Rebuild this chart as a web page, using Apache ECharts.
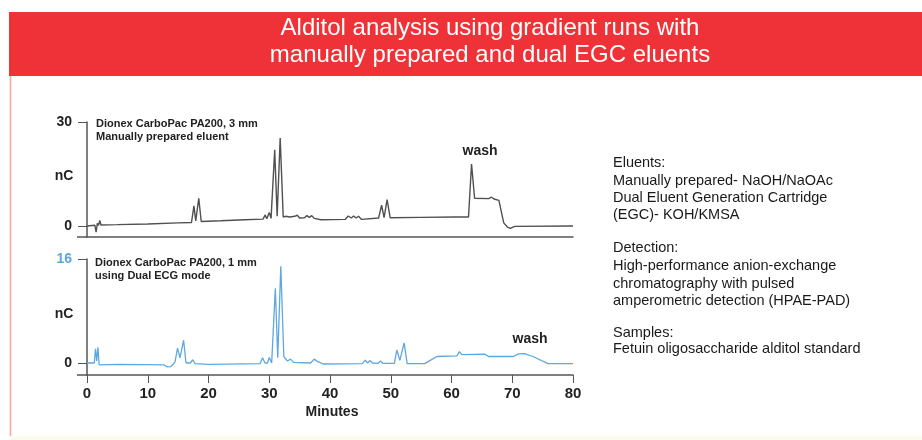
<!DOCTYPE html>
<html>
<head>
<meta charset="utf-8">
<script src="https://cdn.jsdelivr.net/npm/echarts@6/dist/echarts.min.js"></script>
<style>html,body{margin:0;padding:0;background:#fff;}#c{width:922px;height:440px;}</style>
</head>
<body>
<div id="c"></div>
<script>
// ---- data (minutes / nC) ----
var topTime = [0,1.3,1.5,1.7,1.9,2.1,2.3,5,10,15,17.2,17.6,17.9,18.4,18.8,22,26,29.0,29.3,29.6,30.0,30.3,30.9,31.3,31.8,32.3,32.7,33.0,33.4,34.2,34.6,35.0,35.8,36.2,36.6,37.0,37.4,38.5,42.5,43.0,43.5,43.9,44.3,44.7,45.2,48.0,48.5,48.9,49.4,49.9,55,60.5,60.8,61.1,62.8,63.3,63.8,66.1,66.6,67.0,67.8,68.6,69.2,69.7,70.4,80];
var topVal  = [0,0.2,-1.8,0.8,0.2,1.6,0.3,0.4,0.6,0.9,1.0,5.8,1.5,8.0,1.3,1.5,1.8,2.0,3.2,2.1,3.9,2.2,22,2.8,25.4,2.6,2.8,3.2,2.6,2.8,3.1,2.3,2.4,3.0,2.5,3.0,2.2,1.8,1.9,2.9,2.3,2.9,2.3,2.8,1.9,2.3,6.0,2.4,7.6,2.4,2.5,2.6,3.1,2.6,2.6,17.9,8.0,7.9,8.3,7.8,7.4,0.9,-0.3,-0.7,-0.1,0];
var botTime = [0,1.2,1.4,1.6,1.8,2.0,5,10,12.7,13.2,13.8,14.2,14.5,14.9,15.3,15.9,16.3,17.0,17.4,17.8,20,28.5,28.9,29.3,29.7,30.0,30.4,31.0,31.4,31.9,32.4,33.0,33.5,34.0,36.8,37.4,38.0,38.9,45.3,45.8,46.2,46.6,47.0,47.9,48.3,48.7,50.6,51.0,51.5,52.2,52.7,55.6,56.5,57.6,60.9,61.3,61.7,65.5,66.1,70.2,71.0,72.0,73.4,75.9,80];
var botVal  = [0,0,2.2,0.3,2.4,-0.3,-0.2,-0.25,-0.3,-0.6,-0.55,-0.2,0.2,2.3,0.8,3.5,0,0,0.5,-0.1,-0.2,-0.1,0.8,0,0,0.85,0,11.5,0.8,14.9,1.0,0.3,0.6,0.1,0,0.6,0.2,-0.15,-0.1,0.45,0,0.4,0,-0.05,0.3,-0.05,-0.05,2.0,0.4,3.1,-0.1,-0.1,0.4,1.0,1.1,1.75,1.3,1.35,1.0,1.0,1.4,1.45,1.0,-0.1,-0.1];
var xTicks = [0,10,20,30,40,50,60,70,80];
var topYTicks = [0,30];
var botYTicks = [0,16];

function pairs(t, v){ return t.map(function(x,i){ return [x, v[i]]; }); }

var chart = echarts.init(document.getElementById('c'));
var FONT = '"Liberation Sans", Arial, Helvetica, sans-serif';
var axisCol = '#555555';

function yAxisCfg(gi, min, max, ticks, topColor){
  return {
    type:'value', gridIndex:gi, min:min, max:max, position:'left',
    splitLine:{show:false},
    axisLine:{show:true, onZero:false, lineStyle:{color:axisCol, width:1.5}},
    axisTick:{show:true, customValues:ticks.slice(), length:9},
    axisLabel:{customValues:ticks.slice(), margin:15, fontFamily:FONT, fontSize:14, fontWeight:'bold', color:'#222',
      formatter:function(v){ return Number(v) === max ? '{t|' + v + '}' : String(v); },
      rich:{t:{color:topColor, fontFamily:FONT, fontSize:14, fontWeight:'bold'}}}
  };
}

var option = {
  animation:false,
  grid:[
    {left:87, top:122, width:486, height:115, outerBoundsMode:'none', containLabel:false},
    {left:87, top:259, width:486, height:116, outerBoundsMode:'none', containLabel:false}
  ],
  xAxis:[
    {type:'value', gridIndex:0, min:0, max:80, splitLine:{show:false},
     axisLine:{show:true, onZero:false, lineStyle:{color:axisCol, width:1.5}},
     axisTick:{show:false}, axisLabel:{show:false}},
    {type:'value', gridIndex:1, min:0, max:80, splitLine:{show:false},
     axisLine:{show:true, onZero:false, lineStyle:{color:axisCol, width:1.5}},
     axisTick:{show:true, customValues:xTicks.slice(), length:8},
     axisLabel:{customValues:xTicks.slice(), margin:11, fontFamily:FONT, fontSize:15, fontWeight:'bold', color:'#222'}}
  ],
  yAxis:[
    yAxisCfg(0, -3.17, 30, topYTicks, '#222'),
    yAxisCfg(1, -1.846, 16, botYTicks, '#5aa7dd')
  ],
  series:[
    {type:'line', xAxisIndex:0, yAxisIndex:0, data:pairs(topTime, topVal), showSymbol:false, symbol:'none',
     lineStyle:{color:'#505050', width:1.4}},
    {type:'line', xAxisIndex:1, yAxisIndex:1, data:pairs(botTime, botVal), showSymbol:false, symbol:'none',
     lineStyle:{color:'#5ea8df', width:1.3}}
  ],
  graphic:[
    {type:'rect', shape:{x:9, y:12, width:913, height:64}, style:{fill:'#ee3237'}, z:-1},
    {type:'line', shape:{x1:10.5, y1:76, x2:10.5, y2:437}, style:{stroke:'#f4a59c', lineWidth:1.5}},
    {type:'rect', shape:{x:10, y:436, width:912, height:4}, style:{fill:'#fbfcee'}},
    {type:'line', shape:{x1:77, y1:237, x2:87, y2:237}, style:{stroke:axisCol, lineWidth:1.5}},
    {type:'line', shape:{x1:77, y1:375, x2:87, y2:375}, style:{stroke:axisCol, lineWidth:1.5}},
    {type:'text', x:490, y:28, style:{text:'Alditol analysis using gradient runs with', fill:'#ffffff', font:'24px '+FONT, textAlign:'center', textVerticalAlign:'middle'}},
    {type:'text', x:490, y:55, style:{text:'manually prepared and dual EGC eluents', fill:'#ffffff', font:'24px '+FONT, textAlign:'center', textVerticalAlign:'middle'}},
    {type:'text', x:64, y:176, style:{text:'nC', fill:'#222', font:'bold 14px '+FONT, textAlign:'center', textVerticalAlign:'middle'}},
    {type:'text', x:64, y:314, style:{text:'nC', fill:'#222', font:'bold 14px '+FONT, textAlign:'center', textVerticalAlign:'middle'}},
    {type:'text', x:332, y:412, style:{text:'Minutes', fill:'#222', font:'bold 14px '+FONT, textAlign:'center', textVerticalAlign:'middle'}},
    {type:'text', x:96, y:124, style:{text:'Dionex CarboPac PA200, 3 mm', fill:'#222', font:'bold 11px '+FONT, textVerticalAlign:'middle'}},
    {type:'text', x:96, y:137, style:{text:'Manually prepared eluent', fill:'#222', font:'bold 11px '+FONT, textVerticalAlign:'middle'}},
    {type:'text', x:95, y:263, style:{text:'Dionex CarboPac PA200, 1 mm', fill:'#222', font:'bold 11px '+FONT, textVerticalAlign:'middle'}},
    {type:'text', x:95, y:276, style:{text:'using Dual ECG mode', fill:'#222', font:'bold 11px '+FONT, textVerticalAlign:'middle'}},
    {type:'text', x:480, y:151, style:{text:'wash', fill:'#222', font:'bold 14px '+FONT, textAlign:'center', textVerticalAlign:'middle'}},
    {type:'text', x:530, y:339, style:{text:'wash', fill:'#222', font:'bold 14px '+FONT, textAlign:'center', textVerticalAlign:'middle'}},
    {type:'text', x:613, y:163, style:{text:'Eluents:', fill:'#1a1a1a', font:'14.5px '+FONT, textVerticalAlign:'middle'}},
    {type:'text', x:613, y:181, style:{text:'Manually prepared- NaOH/NaOAc', fill:'#1a1a1a', font:'14.5px '+FONT, textVerticalAlign:'middle'}},
    {type:'text', x:613, y:198, style:{text:'Dual Eluent Generation Cartridge', fill:'#1a1a1a', font:'14.5px '+FONT, textVerticalAlign:'middle'}},
    {type:'text', x:613, y:215, style:{text:'(EGC)- KOH/KMSA', fill:'#1a1a1a', font:'14.5px '+FONT, textVerticalAlign:'middle'}},
    {type:'text', x:613, y:248, style:{text:'Detection:', fill:'#1a1a1a', font:'14.5px '+FONT, textVerticalAlign:'middle'}},
    {type:'text', x:613, y:266, style:{text:'High-performance anion-exchange', fill:'#1a1a1a', font:'14.5px '+FONT, textVerticalAlign:'middle'}},
    {type:'text', x:613, y:284, style:{text:'chromatography with pulsed', fill:'#1a1a1a', font:'14.5px '+FONT, textVerticalAlign:'middle'}},
    {type:'text', x:613, y:301, style:{text:'amperometric detection (HPAE-PAD)', fill:'#1a1a1a', font:'14.5px '+FONT, textVerticalAlign:'middle'}},
    {type:'text', x:613, y:333, style:{text:'Samples:', fill:'#1a1a1a', font:'14.5px '+FONT, textVerticalAlign:'middle'}},
    {type:'text', x:613, y:349, style:{text:'Fetuin oligosaccharide alditol standard', fill:'#1a1a1a', font:'14.5px '+FONT, textVerticalAlign:'middle'}}
  ]
};
chart.setOption(option);
</script>
</body>
</html>
